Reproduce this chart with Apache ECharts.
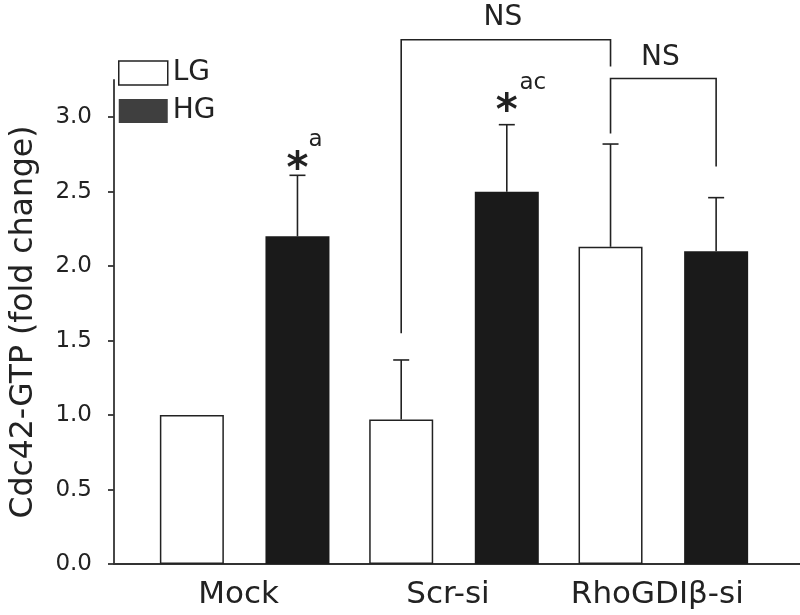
<!DOCTYPE html>
<html>
<head>
<meta charset="utf-8">
<script src="https://cdn.jsdelivr.net/npm/echarts@6/dist/echarts.min.js"></script>
<style>
  html, body { margin: 0; padding: 0; background: #fff; }
  #chart { width: 800px; height: 615px; }
</style>
</head>
<body>
<div id="chart"></div>
<script>
var groups = ['Mock', 'Scr-si', 'RhoGDIβ-si'];
var lgMean = [1.0, 0.97, 2.13];
var hgMean = [2.20, 2.50, 2.10];
var lgUpper = [null, 1.37, 2.82];   // top of error bar
var hgUpper = [2.61, 2.95, 2.46];
var yTicks = [0, 0.5, 1.0, 1.5, 2.0, 2.5, 3.0];
// [group, side, y]
var stars = [[0, 1, 2.70], [1, 1, 3.09]];
// [group, side, text, y]
var letters = [[0, 1, 'a', 2.85], [1, 1, 'ac', 3.23]];
// [groupA, sideA, legEndA, groupB, sideB, legEndB, barY, textY]
var brackets = [
  [1, -1, 1.55, 2, -1, 3.34, 3.52, 3.665],
  [2, -1, 2.89, 2, 1, 2.67, 3.26, 3.40]
];

var BAR_W = 64, GAP = 0.65;
var OFF = (BAR_W + BAR_W * GAP) / 2;
var INK = '#222';
var FONT = 'DejaVu Sans';

var errData = [];
lgUpper.forEach(function (u, i) { if (u != null) errData.push([i, -1, lgMean[i], u]); });
hgUpper.forEach(function (u, i) { if (u != null) errData.push([i, 1, hgMean[i], u]); });

var myChart = echarts.init(document.getElementById('chart'));
var option = {
  backgroundColor: '#fff',
  animation: false,
  textStyle: { fontFamily: FONT },
  legend: {
    orient: 'vertical',
    left: 113, top: 54,
    itemWidth: 49, itemHeight: 24, itemGap: 10,
    icon: 'rect',
    textStyle: { fontSize: 28, color: INK, fontFamily: FONT },
    data: [
      { name: 'LG', itemStyle: { color: '#fff', borderColor: INK, borderWidth: 1.5 } },
      { name: 'HG', itemStyle: { color: '#3f3f3f', borderWidth: 0 } }
    ]
  },
  grid: [
    { left: 140, right: 32, top: 80, bottom: 51 },
    { left: 108, right: 0, top: 80, bottom: 51 }
  ],
  xAxis: [
    {
      type: 'category', gridIndex: 0, data: groups,
      axisLine: { show: false }, axisTick: { show: false },
      axisLabel: { interval: 0, hideOverlap: false, fontSize: 31, color: INK, margin: 15,
        padding: [0, 12, 0, 0], fontFamily: FONT }
    },
    {
      type: 'value', gridIndex: 1, min: 0, max: 1,
      axisLine: { show: true, lineStyle: { color: '#333', width: 1.8 } },
      axisTick: { show: false }, axisLabel: { show: false }, splitLine: { show: false }
    }
  ],
  yAxis: [
    { type: 'value', gridIndex: 0, min: 0, max: 3.25, show: false },
    {
      type: 'value', gridIndex: 1, min: 0, max: 3.25,
      name: 'Cdc42-GTP (fold change)', nameLocation: 'middle', nameGap: 74,
      nameTextStyle: { fontSize: 31.5, color: INK, fontFamily: FONT },
      axisLine: { show: true, lineStyle: { color: '#333', width: 1.8 } },
      axisTick: { show: true, length: 6, customValues: yTicks, lineStyle: { color: '#333', width: 1.8 } },
      axisLabel: {
        customValues: yTicks, fontSize: 23, color: INK, margin: 22, fontFamily: FONT,
        formatter: function (v) { return v.toFixed(1); }
      },
      splitLine: { show: false }
    }
  ],
  series: [
    {
      name: 'LG', type: 'bar', xAxisIndex: 0, yAxisIndex: 0,
      barWidth: BAR_W, barGap: '65%', data: lgMean,
      itemStyle: { color: '#fff', borderColor: INK, borderWidth: 1.5 }
    },
    {
      name: 'HG', type: 'bar', xAxisIndex: 0, yAxisIndex: 0,
      barWidth: BAR_W, data: hgMean,
      itemStyle: { color: '#1a1a1a' }
    },
    {
      name: 'err', type: 'custom', xAxisIndex: 0, yAxisIndex: 0, z: 1,
      data: errData,
      renderItem: function (params, api) {
        var c = api.value(0), side = api.value(1);
        var b = api.coord([c, api.value(2)]);
        var t = api.coord([c, api.value(3)]);
        var x = b[0] + side * OFF;
        var st = { stroke: INK, lineWidth: 1.6 };
        return { type: 'group', children: [
          { type: 'line', shape: { x1: x, y1: b[1], x2: x, y2: t[1] }, style: st },
          { type: 'line', shape: { x1: x - 8, y1: t[1], x2: x + 8, y2: t[1] }, style: st }
        ] };
      }
    },
    {
      name: 'brackets', type: 'custom', xAxisIndex: 0, yAxisIndex: 0,
      data: brackets,
      renderItem: function (params, api) {
        var a = api.coord([api.value(0), api.value(2)]);
        var b = api.coord([api.value(3), api.value(5)]);
        var yTop = api.coord([0, api.value(6)])[1];
        var yTxt = api.coord([0, api.value(7)])[1];
        var xa = a[0] + api.value(1) * OFF;
        var xb = b[0] + api.value(4) * OFF;
        return { type: 'group', children: [
          { type: 'polyline', shape: { points: [[xa, a[1]], [xa, yTop], [xb, yTop], [xb, b[1]]] },
            style: { stroke: INK, lineWidth: 1.6, fill: null } },
          { type: 'text', x: (xa + xb) / 2 - 3, y: yTxt,
            style: { text: 'NS', fontSize: 28, fontFamily: FONT, fill: INK, align: 'center', verticalAlign: 'middle' } }
        ] };
      }
    },
    {
      name: 'stars', type: 'custom', xAxisIndex: 0, yAxisIndex: 0,
      data: stars,
      renderItem: function (params, api) {
        var p = api.coord([api.value(0), api.value(2)]);
        return { type: 'text', x: p[0] + api.value(1) * OFF, y: p[1] + 9,
          style: { text: '*', fontSize: 42, fontWeight: 'bold', fontFamily: FONT, fill: INK, align: 'center', verticalAlign: 'middle' } };
      }
    },
    {
      name: 'letters', type: 'custom', xAxisIndex: 0, yAxisIndex: 0,
      data: letters,
      renderItem: function (params, api) {
        var d = letters[params.dataIndex];
        var p = api.coord([d[0], d[3]]);
        return { type: 'text', x: p[0] + d[1] * OFF + 18 + (d[2].length - 1) * 8, y: p[1],
          style: { text: d[2], fontSize: 23, fontFamily: FONT, fill: INK, align: 'center', verticalAlign: 'middle' } };
      }
    }
  ]
};
myChart.setOption(option);
</script>
</body>
</html>
